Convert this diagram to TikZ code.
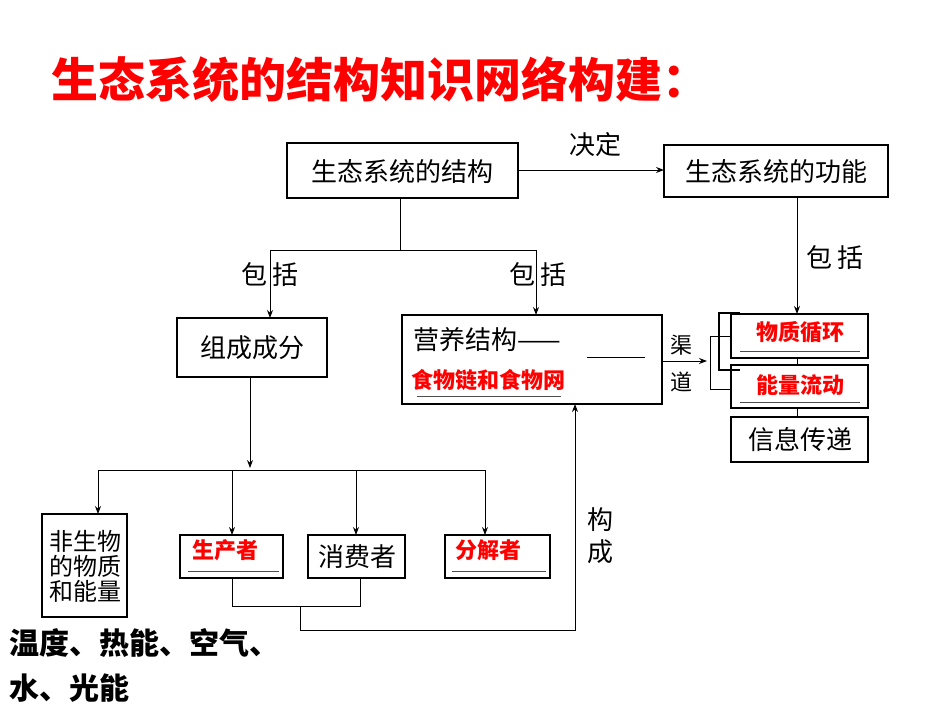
\documentclass[tikz,border=0pt]{standalone}
\usepackage{fontspec}
\setmainfont{Noto Sans CJK SC}
\usetikzlibrary{arrows.meta}
\begin{document}
\begin{tikzpicture}[x=1pt,y=-1pt,
  box/.style={draw,line width=1.3pt},
  ln/.style={line width=1pt},
  ar/.style={ln,-{Stealth[length=8pt,width=6pt]}},
  bt/.style={font=\fontsize{26}{28}\selectfont,anchor=center},
  rt/.style={font=\fontsize{22}{24}\selectfont\bfseries,text=red,anchor=center},
  ul/.style={line width=0.8pt,double,double distance=1pt,draw=black!70}]
\useasboundingbox (0,0) rectangle (950,713);
\node[font=\fontsize{47}{50}\selectfont\bfseries,text=red,anchor=west] (title) at (48,80) {生态系统的结构知识网络构建：};
% top boxes
\draw[box] (287,143) rectangle (518,198); \node[bt] (A) at (402,172) {生态系统的结构};
\draw[box] (664,145) rectangle (888,197); \node[bt] (B) at (776,172) {生态系统的功能};
\coordinate (Ar) at (518,170); \coordinate (Bl) at (664,170);
\draw[ar] (Ar) -- (Bl);
\node[bt] (jd) at (595,145) {决定};
% split
\coordinate (Ab) at (400,198); \coordinate (j1) at (400,250);
\coordinate (s1) at (270,250); \coordinate (s2) at (536,250);
\draw[ln] (Ab) -- (j1); \draw[ln] (s1) -- (s2);
\coordinate (c1) at (270,318); \coordinate (c2) at (536,315);
\draw[ar] (s1) -- (c1); \draw[ar] (s2) -- (c2);
\node[bt] (bk1) at (270,275) {包\,括};
\node[bt] (bk2) at (538,275) {包\,括};
% 组成成分
\draw[box] (177,318) rectangle (327,377); \node[bt] (zc) at (252,348) {组成成分};
% 营养结构
\draw[box] (402,315) rectangle (662,404);
\node[bt,anchor=west] (yy) at (410,340) {营养结构——};
\draw[ln] (587,357) -- (645,357);
\node[rt,anchor=west] (sw) at (408,380) {食物链和食物网};
\draw[ul] (417,397) -- (561,397);
% function
\coordinate (Bb) at (797,197); \coordinate (wt) at (797,314);
\draw[ar] (Bb) -- (wt);
\node[bt] (bk3) at (835,258) {包\,括};
\draw[box] (731,314) rectangle (868,358); \node[rt] (wz) at (800,332) {物质循环};
\draw[ul] (740,352) -- (860,352);
\draw[box] (731,365) rectangle (868,408); \node[rt] (nl) at (800,385) {能量流动};
\draw[ul] (740,403) -- (860,403);
\draw[box] (731,417) rectangle (868,462); \node[bt] (xx) at (800,440) {信息传递};
\draw[ln] (797,358) -- (797,365); \draw[ln] (797,408) -- (797,417);
\draw[line width=1.6pt] (740,313) -- (719,313) -- (719,370) -- (740,370);
\coordinate (yr) at (662,361); \coordinate (qd) at (707,361);
\draw[ar] (yr) -- (qd);
\draw[ln] (731,336) -- (710,336) -- (710,389) -- (731,389);
\node[bt,font=\fontsize{22}{24}\selectfont] (q1) at (681,345) {渠};
\node[bt,font=\fontsize{22}{24}\selectfont] (q2) at (681,382) {道};
% components
\coordinate (zb) at (250,377); \coordinate (zj) at (250,468);
\draw[ar] (zb) -- (zj);
\draw[ln] (98,470) -- (485,470);
\coordinate (d1) at (98,470); \coordinate (e1) at (98,514);
\coordinate (d2) at (232,470); \coordinate (e2) at (232,535);
\coordinate (d3) at (356,470); \coordinate (e3) at (356,535);
\coordinate (d4) at (485,470); \coordinate (e4) at (485,535);
\draw[ar] (d1) -- (e1); \draw[ar] (d2) -- (e2); \draw[ar] (d3) -- (e3); \draw[ar] (d4) -- (e4);
\draw[box] (42,514) rectangle (127,617);
\node[bt,align=center,font=\fontsize{24}{25}\selectfont] (fs) at (85,566) {非生物\\的物质\\和能量};
\draw[box] (180,535) rectangle (283,578); \node[rt] (sc) at (225,550) {生产者};
\draw[ul] (188,572) -- (279,572);
\draw[box] (308,535) rectangle (405,578); \node[bt] (xf) at (357,557) {消费者};
\draw[box] (445,535) rectangle (550,578); \node[rt] (fj) at (488,550) {分解者};
\draw[ul] (452,572) -- (546,572);
% bottom path
\draw[ln] (232,578) -- (232,606) -- (360,606) -- (360,578);
\coordinate (m) at (300,606); \coordinate (yb) at (575,404);
\draw[ar] (m) -- (300,630) -- (575,630) -- (yb);
\node[bt] (gc1) at (600,520) {构};
\node[bt] (gc2) at (600,552) {成};
\node[font=\fontsize{30}{32}\selectfont\bfseries,anchor=west] (wd) at (6,643) {温度、热能、空气、};
\node[font=\fontsize{30}{32}\selectfont\bfseries,anchor=west] (sg) at (6,688) {水、光能};
\end{tikzpicture}
\end{document}
